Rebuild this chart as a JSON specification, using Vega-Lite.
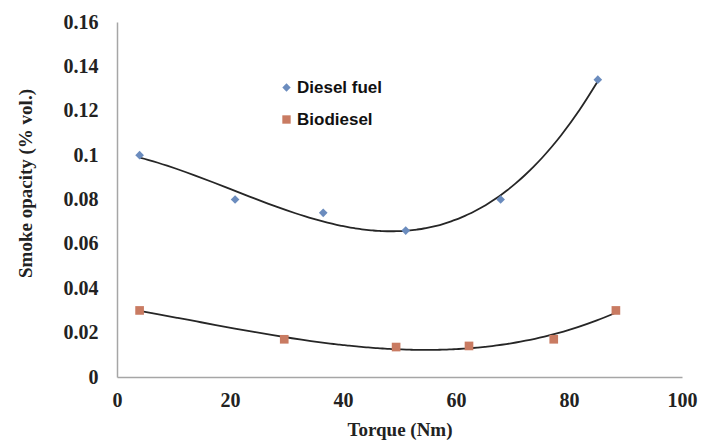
{
  "$schema": "https://vega.github.io/schema/vega-lite/v6.json",
  "width": 565,
  "height": 355,
  "autosize": {"type": "none"},
  "padding": {"left": 117, "top": 22, "right": 28, "bottom": 66},
  "background": "white",
  "config": {
    "view": {"stroke": null},
    "axis": {
      "grid": false,
      "ticks": false,
      "labelFlush": false,
      "domainColor": "#a6a6a6",
      "domainWidth": 1.5,
      "labelFont": "Liberation Serif",
      "labelFontWeight": "bold",
      "labelFontSize": 20,
      "labelColor": "#222222",
      "titleFont": "Liberation Serif",
      "titleFontWeight": "bold",
      "titleFontSize": 19,
      "titleColor": "#222222"
    }
  },
  "data": {
    "values": [
      {"series": "Diesel fuel", "torque": 4, "opacity": 0.1},
      {"series": "Diesel fuel", "torque": 20.9, "opacity": 0.08},
      {"series": "Diesel fuel", "torque": 36.5, "opacity": 0.074},
      {"series": "Diesel fuel", "torque": 51.1, "opacity": 0.066},
      {"series": "Diesel fuel", "torque": 67.9, "opacity": 0.08},
      {"series": "Diesel fuel", "torque": 85.1, "opacity": 0.134},
      {"series": "Biodiesel", "torque": 4, "opacity": 0.03},
      {"series": "Biodiesel", "torque": 29.6, "opacity": 0.017},
      {"series": "Biodiesel", "torque": 49.4, "opacity": 0.0135},
      {"series": "Biodiesel", "torque": 62.3, "opacity": 0.014},
      {"series": "Biodiesel", "torque": 77.3, "opacity": 0.017},
      {"series": "Biodiesel", "torque": 88.3, "opacity": 0.03}
    ]
  },
  "encoding": {
    "x": {
      "field": "torque", "type": "quantitative",
      "scale": {"domain": [0, 100], "nice": false, "zero": true},
      "axis": {"values": [0, 20, 40, 60, 80, 100], "title": "Torque (Nm)", "labelPadding": 13, "titlePadding": 10}
    },
    "y": {
      "field": "opacity", "type": "quantitative",
      "scale": {"domain": [0, 0.16], "nice": false},
      "axis": {"values": [0, 0.02, 0.04, 0.06, 0.08, 0.1, 0.12, 0.14, 0.16], "title": "Smoke opacity (% vol.)", "labelPadding": 19, "titleX": -82, "titleY": 161, "labelExpr": "datum.value == 0 ? '0' : format(datum.value, '.2~f')"}
    }
  },
  "layer": [
    {
      "transform": [
        {"regression": "opacity", "on": "torque", "method": "poly", "order": 3, "groupby": ["series"]}
      ],
      "mark": {"type": "line", "color": "#262626", "strokeWidth": 1.8, "interpolate": "monotone"},
      "encoding": {"detail": {"field": "series"}}
    },
    {
      "mark": {"type": "point", "filled": true, "opacity": 1},
      "encoding": {
        "color": {
          "field": "series", "type": "nominal",
          "scale": {"domain": ["Diesel fuel", "Biodiesel"], "range": ["#6b8cbe", "#c97b62"]},
          "legend": {
            "title": null, "orient": "none", "legendX": 161, "legendY": 57,
            "labelFont": "Liberation Sans", "labelFontWeight": "bold", "labelFontSize": 17, "labelColor": "#111111",
            "rowPadding": 14, "symbolSize": 70, "labelOffset": 2
          }
        },
        "shape": {
          "field": "series", "type": "nominal",
          "scale": {"domain": ["Diesel fuel", "Biodiesel"], "range": ["diamond", "square"]},
          "legend": null
        },
        "size": {"value": 75}
      }
    }
  ]
}
